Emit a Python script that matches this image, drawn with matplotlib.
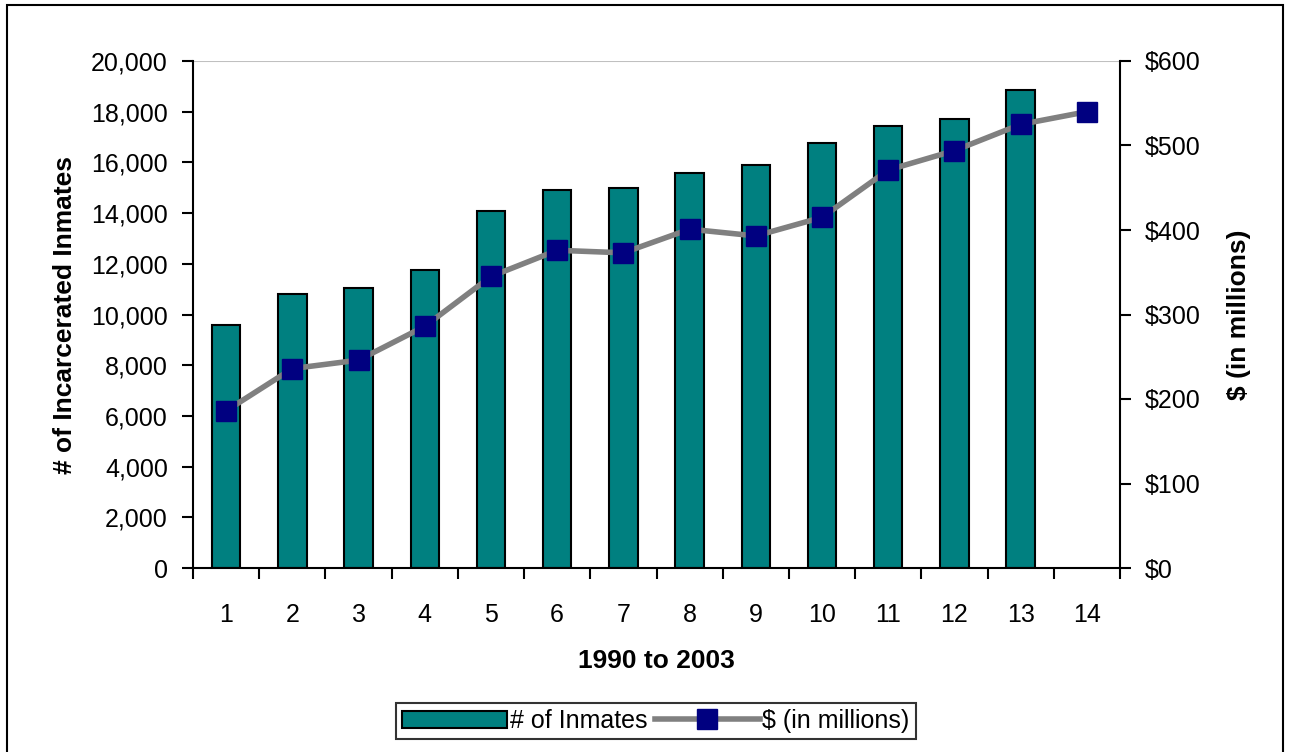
import numpy as np
import matplotlib
matplotlib.use('Agg')
import matplotlib.pyplot as plt
from matplotlib.patches import Rectangle
from matplotlib.ticker import FuncFormatter

plt.rcParams['font.family'] = ['Liberation Sans', 'DejaVu Sans']

# data
periods = list(range(1, 15))
inmates = [9600, 10800, 11050, 11750, 14100, 14900, 15000, 15600, 15900, 16780, 17450, 17700, 18860, np.nan]
dollars = [186, 236, 246, 286, 345, 376, 373, 401, 393, 415, 471, 494, 525, 540]

fig = plt.figure(figsize=(12.89, 7.52), dpi=100)
ax = fig.add_axes([193/1289, 1 - 568/752, (1120 - 193)/1289, (568 - 61)/752])
ax2 = ax.twinx()

x = np.arange(len(periods))
bars = ax.bar(x, inmates, width=0.43, color='#008080', edgecolor='black', linewidth=1.5,
              label='# of Inmates', zorder=2)
line, = ax2.plot(x, dollars, color='#808080', linewidth=4, marker='s', markersize=14,
                 markerfacecolor='#000080', markeredgecolor='#000080', label='$ (in millions)',
                 zorder=3)

ax.set_xlim(-0.5, len(periods) - 0.5)
ax.set_ylim(0, 20000)
ax2.set_ylim(0, 600)

ax.set_yticks(np.arange(0, 20001, 2000))
ax.yaxis.set_major_formatter(FuncFormatter(lambda v, p: f'{int(v):,}'))
ax2.set_yticks(np.arange(0, 601, 100))
ax2.yaxis.set_major_formatter(FuncFormatter(lambda v, p: f'${int(v)}'))

# category labels at centres, tick marks at boundaries
ax.set_xticks(x)
ax.set_xticklabels([str(p) for p in periods])
ax.set_xticks(np.arange(-0.5, len(periods), 1), minor=True)
ax.tick_params(axis='x', which='major', length=0, pad=25, labelsize=18)
ax.tick_params(axis='x', which='minor', length=8, width=1.5, direction='out')
ax.tick_params(axis='y', length=8, width=1.5, direction='out', labelsize=18, pad=10)
ax2.tick_params(axis='y', length=8, width=1.5, direction='out', labelsize=18, pad=10)

for a in (ax, ax2):
    a.spines['top'].set_visible(False)
    for s in ('left', 'right', 'bottom'):
        a.spines[s].set_linewidth(1.5)
ax.spines['right'].set_visible(False)
ax2.spines['left'].set_visible(False)
ax2.spines['bottom'].set_visible(False)
ax.axhline(20000, color='#c0c0c0', linewidth=1.5, zorder=1)

ax.set_xlabel('1990 to 2003', fontsize=19, fontweight='bold', labelpad=16)
ax.set_ylabel('# of Incarcerated Inmates', fontsize=19, fontweight='bold', labelpad=10)
ax2.set_ylabel('$ (in millions)', fontsize=19, fontweight='bold', labelpad=19)

leg = fig.legend([bars, line], ['# of Inmates', '$ (in millions)'], loc='center',
                 bbox_to_anchor=(656/1289, 1 - 721/752), ncol=2, fontsize=18, frameon=True,
                 fancybox=False, edgecolor='black', handlelength=4.2, handletextpad=0.1,
                 columnspacing=0.3, borderpad=0.25)
leg.get_frame().set_linewidth(1.5)

# outer chart frame
fig.patches.append(Rectangle((7/1289, -0.01), (1283 - 7)/1289, 1 - 5/752 + 0.01,
                             transform=fig.transFigure, fill=False, edgecolor='black',
                             linewidth=1.5))

fig.savefig('out.png', dpi=100)
